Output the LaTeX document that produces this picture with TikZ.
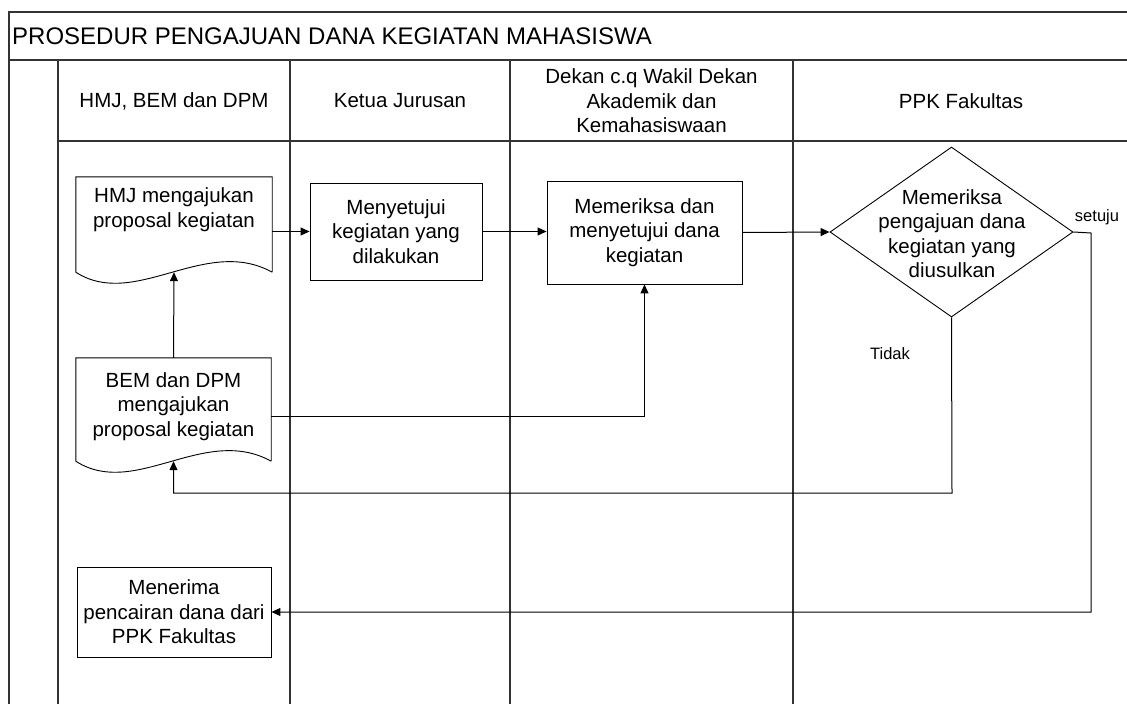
\documentclass[tikz,border=0pt]{standalone}
\usepackage{fontspec}
\setmainfont{Liberation Sans}
\usetikzlibrary{shapes.geometric,arrows.meta,calc}
\begin{document}
\begin{tikzpicture}[x=1pt,y=-1pt,
  lane/.style={draw=black!80,line width=1.4pt},
  txt/.style={align=center,font=\fontsize{20.5}{24.5}\selectfont,inner sep=0pt},
  box/.style={draw=black,line width=0.9pt,inner sep=0pt,align=center,font=\fontsize{20.5}{24.5}\selectfont},
  frame/.style={draw=none,inner sep=0pt},
  docline/.style={draw=black,line width=0.9pt},
  arr/.style={draw=black,line width=1pt,-{Triangle[length=9pt,width=8pt]}},
  lbl/.style={font=\fontsize{16.5}{19}\selectfont,inner sep=0pt}
]
\useasboundingbox (0,0) rectangle (1127,704);
% swimlane frame
\draw[lane] (1140,12) -- (9,12) -- (9,710);
\draw[lane] (9,60) -- (1140,60);
\draw[lane] (58,141) -- (1140,141);
\draw[lane] (58,60) -- (58,710);
\draw[lane] (290,60) -- (290,710);
\draw[lane] (510,60) -- (510,710);
\draw[lane] (793,60) -- (793,710);
\node[anchor=west,inner sep=0pt,font=\fontsize{24}{28}\selectfont] (title) at (12,36) {PROSEDUR PENGAJUAN DANA KEGIATAN MAHASISWA};
% lane headers
\node[txt] (h1) at (174,101) {HMJ, BEM dan DPM};
\node[txt] (h2) at (400,101) {Ketua Jurusan};
\node[txt] (h3) at (651.5,101) {Dekan c.q Wakil Dekan\\Akademik dan\\Kemahasiswaan};
\node[txt] (h4) at (961,101) {PPK Fakultas};
% HMJ document
\node[frame,minimum width=196pt,minimum height=95pt] (hmj) at (174,224.5) {};
\draw[docline] (hmj.south east) -- (hmj.north east) -- (hmj.north west) -- (hmj.south west)
  .. controls +(59,38) and +(-67,-37) .. (hmj.south east);
\node[txt] (hmjt) at (174,209.5) {HMJ mengajukan\\proposal kegiatan};
% BEM document
\node[frame,minimum width=195pt,minimum height=103pt] (bem) at (173.5,409.5) {};
\draw[docline] (bem.south east) -- (bem.north east) -- (bem.north west) -- (bem.south west)
  .. controls +(59,38) and +(-67,-37) .. (bem.south east);
\node[txt] (bemt) at (173.5,406.5) {BEM dan DPM\\mengajukan\\proposal kegiatan};
% process boxes
\node[box,minimum width=172pt,minimum height=97pt] (ketua) at (396,231.5) {Menyetujui\\kegiatan yang\\dilakukan};
\node[box,minimum width=195pt,minimum height=103pt] (dekan) at (644.5,232.5) {Memeriksa dan\\menyetujui dana\\kegiatan};
\node[box,minimum width=194pt,minimum height=90pt] (terima) at (174,612) {Menerima\\pencairan dana dari\\PPK Fakultas};
% decision
\node[diamond,draw=black,line width=0.9pt,inner sep=0pt,minimum width=243pt,minimum height=170pt] (dia) at (951.5,232) {};
\node[txt] (diat) at (952,233.5) {Memeriksa\\pengajuan dana\\kegiatan yang\\diusulkan};
% labels
\node[lbl] (setuju) at (1097,217) {setuju};
\node[lbl] (tidak) at (890,354) {Tidak};
% connectors
\coordinate (sc) at (1091,233);
\coordinate (tk) at (952,493);
\draw[arr] (ketua.west -| hmj.east) -- (ketua.west);
\draw[arr] (ketua.east) -- (ketua.east -| dekan.west);
\draw[arr] (dekan.east) -- (dia.west);
\draw[arr] (bem.north) -- (hmj.south);
\draw[arr] ($(bem.east)+(0,6.5)$) -| (dekan.south);
\draw[arr] (dia.south) -- (tk) -| (bem.south);
\draw[arr] (dia.east) -- (sc) |- (terima.east);
\end{tikzpicture}
\end{document}
